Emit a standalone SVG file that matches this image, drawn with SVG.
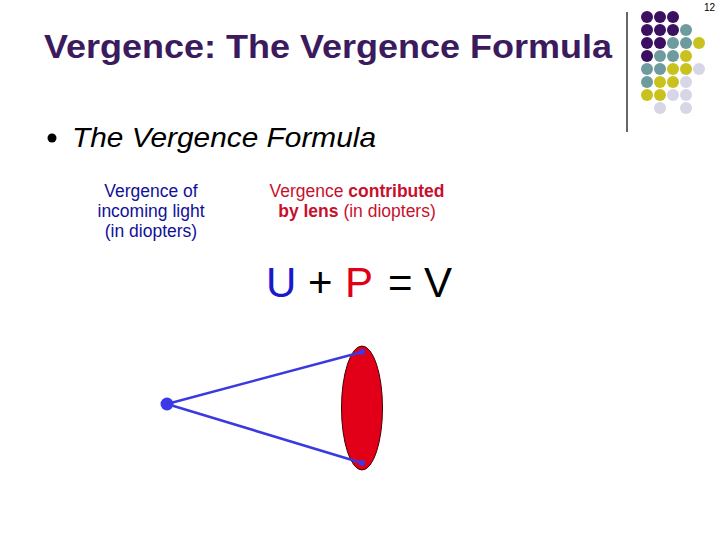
<svg xmlns="http://www.w3.org/2000/svg" width="720" height="540" viewBox="0 0 720 540">
<style>
text{font-family:"Liberation Sans",Arial,sans-serif}
.p{fill:#3c1060}.t{fill:#6e9c9e}.y{fill:#c9c21e}.l{fill:#d6d6e6}
.lab{font-size:17.5px;text-anchor:middle}
.ray{stroke:#3a3ae0;stroke-width:2.5}
</style>
<rect width="720" height="540" fill="#fff"/>
<text x="715" y="11" font-size="10" text-anchor="end">12</text>
<line x1="627" y1="12" x2="627" y2="132" stroke="#000" stroke-width="1.2"/>
<g id="dots">
<circle class="p" cx="647" cy="17" r="6"/><circle class="p" cx="660" cy="17" r="6"/><circle class="p" cx="673" cy="17" r="6"/>
<circle class="p" cx="647" cy="30" r="6"/><circle class="p" cx="660" cy="30" r="6"/><circle class="p" cx="673" cy="30" r="6"/><circle class="t" cx="686" cy="30" r="6"/>
<circle class="p" cx="647" cy="43" r="6"/><circle class="p" cx="660" cy="43" r="6"/><circle class="t" cx="673" cy="43" r="6"/><circle class="t" cx="686" cy="43" r="6"/><circle class="y" cx="699" cy="43" r="6"/>
<circle class="p" cx="647" cy="56" r="6"/><circle class="t" cx="660" cy="56" r="6"/><circle class="t" cx="673" cy="56" r="6"/><circle class="y" cx="686" cy="56" r="6"/>
<circle class="t" cx="647" cy="69" r="6"/><circle class="t" cx="660" cy="69" r="6"/><circle class="y" cx="673" cy="69" r="6"/><circle class="y" cx="686" cy="69" r="6"/><circle class="l" cx="699" cy="69" r="6"/>
<circle class="t" cx="647" cy="82" r="6"/><circle class="y" cx="660" cy="82" r="6"/><circle class="y" cx="673" cy="82" r="6"/><circle class="l" cx="686" cy="82" r="6"/>
<circle class="y" cx="647" cy="95" r="6"/><circle class="y" cx="660" cy="95" r="6"/><circle class="l" cx="673" cy="95" r="6"/><circle class="l" cx="686" cy="95" r="6"/>
<circle class="l" cx="660" cy="108" r="6"/><circle class="l" cx="686" cy="108" r="6"/>
</g>
<text x="44" y="58" font-size="33" font-weight="bold" fill="#3b1a5e" textLength="568" lengthAdjust="spacingAndGlyphs">Vergence: The Vergence Formula</text>
<circle cx="52" cy="138" r="4.5" fill="#000"/>
<text x="72" y="147" font-size="28" font-style="italic" textLength="304" lengthAdjust="spacingAndGlyphs">The Vergence Formula</text>
<g id="labelU" fill="#10109a">
<text class="lab" x="151" y="197">Vergence of</text>
<text class="lab" x="151" y="217">incoming light</text>
<text class="lab" x="151" y="237">(in diopters)</text>
</g>
<g id="labelP" fill="#c8102e">
<text class="lab" x="357" y="197">Vergence <tspan font-weight="bold">contributed</tspan></text>
<text class="lab" x="357" y="217"><tspan font-weight="bold">by lens</tspan> (in diopters)</text>
</g>
<g id="formula" font-size="42">
<text x="266" y="297" fill="#1a1acc">U</text>
<text x="308" y="297">+</text>
<text x="345" y="297" fill="#e00018">P</text>
<text x="388" y="297">=</text>
<text x="424" y="297">V</text>
</g>
<g id="lens"><ellipse cx="362" cy="408" rx="20.5" ry="62" fill="#e20018" stroke="#400" stroke-width="1"/></g>
<g id="source"><circle cx="167" cy="404" r="6.5" fill="#3a3ae8"/></g>
<g id="connectors">
<line class="ray" x1="167" y1="404" x2="362" y2="352"/>
<line class="ray" x1="167" y1="404" x2="362" y2="463"/>
<circle cx="362" cy="352" r="3" fill="#3a3ae8"/>
<circle cx="362" cy="463" r="3" fill="#3a3ae8"/>
</g>
</svg>
